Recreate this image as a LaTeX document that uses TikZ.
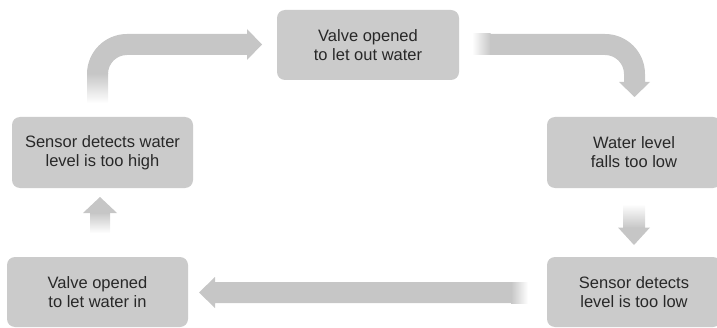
\documentclass[tikz,border=0pt]{standalone}
\usepackage{fontspec}
\setmainfont{Liberation Sans}
\definecolor{boxgray}{RGB}{203,203,203}
\definecolor{arrgray}{RGB}{198,198,198}
\definecolor{txt}{RGB}{40,40,40}
\begin{document}
\begin{tikzpicture}[x=1pt,y=1pt,
  box/.style={fill=boxgray, draw=none, rounded corners=8pt, align=center,
    text=txt, inner sep=0pt,
    font=\fontsize{16.5pt}{19pt}\selectfont},
  arr/.style={fill=arrgray, draw=none}]
\useasboundingbox (0,0) rectangle (717,327);
\clip (0,0) rectangle (717,327);

% boxes
\node[box, minimum width=182pt, minimum height=70pt] (top) at (368,282) {Valve opened\\to let out water};
\node[box, minimum width=181pt, minimum height=71pt] (high) at (102.5,174.5) {Sensor detects water\\level is too high};
\node[box, minimum width=174pt, minimum height=71pt] (falls) at (634,174.5) {Water level\\falls too low};
\node[box, minimum width=181pt, minimum height=70pt] (in) at (97.5,35) {Valve opened\\to let water in};
\node[box, minimum width=174pt, minimum height=70pt] (low) at (634,35) {Sensor detects\\level is too low};

% top-left bent arrow (high -> top)
\shade[bottom color=white, top color=arrgray] (87,224) rectangle (108,253.5);
\fill[arr] (87,253) arc[start angle=180,end angle=90,radius=40]
  -- (247,293) -- (247,298) -- (262,282.5) -- (247,267) -- (247,272)
  -- (127,272) arc[start angle=90,end angle=180,radius=19] -- cycle;

% top-right bent arrow (top -> falls)
\shade[left color=white, right color=arrgray] (472,272) rectangle (490.5,293);
\fill[arr] (490,293) -- (605,293) arc[start angle=90,end angle=0,radius=40]
  -- (645,245) -- (650,245) -- (634.5,230) -- (619,245) -- (624,245)
  -- (624,253) arc[start angle=0,end angle=90,radius=19] -- (490,272) -- cycle;

% right down arrow (falls -> low)
\shade[top color=white, bottom color=arrgray] (623,99) rectangle (645,123);
\fill[arr] (618,99.5) -- (650,99.5) -- (634,82) -- cycle;

% bottom long arrow (low -> in)
\shade[left color=arrgray, right color=white] (511,24) rectangle (528,45);
\fill[arr] (511.5,24) -- (215,24) -- (215,19) -- (199,34.5) -- (215,50) -- (215,45) -- (511.5,45) -- cycle;

% left up arrow (in -> high)
\shade[bottom color=white, top color=arrgray] (90,94) rectangle (110,114.5);
\fill[arr] (83,114) -- (117,114) -- (100,130) -- cycle;
\end{tikzpicture}
\end{document}
